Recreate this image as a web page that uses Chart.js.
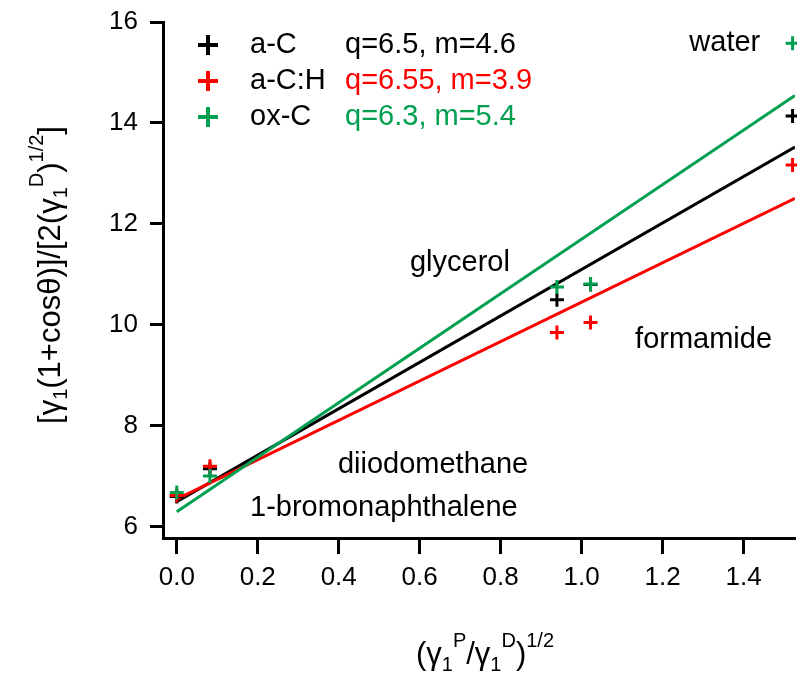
<!DOCTYPE html>
<html>
<head>
<meta charset="utf-8">
<script src="https://cdn.jsdelivr.net/npm/chart.js@4.4.0/dist/chart.umd.min.js"></script>
<style>
  html, body { margin: 0; padding: 0; background: #fff; }
  #wrap { width: 797px; height: 675px; position: relative; }
</style>
</head>
<body>
<div id="wrap"><canvas id="chart" width="797" height="675"></canvas></div>
<script>
// probe liquids, x = (γ1P/γ1D)^1/2
const liquids = ['1-bromonaphthalene', 'diiodomethane', 'glycerol', 'formamide', 'water'];
const xValues = [0.0, 0.082, 0.939, 1.022, 1.521];

// y = [γ1(1+cosθ)]/[2(γ1D)^1/2] per sample
const seriesNames = ['a-C', 'a-C:H', 'ox-C'];
const aC  = [6.60, 7.15, 10.50, 10.80, 14.14];
const aCH = [6.62, 7.20, 9.85, 10.05, 13.17];
const oxC = [6.68, 7.01, 10.75, 10.81, 15.58];

// linear fits y = q + m x
const fitQ = [6.5, 6.55, 6.3];
const fitM = [4.6, 3.9, 5.4];
const fitRange = [0, 1.527];

const xTicks = [0.0, 0.2, 0.4, 0.6, 0.8, 1.0, 1.2, 1.4];
const yTicks = [6, 8, 10, 12, 14, 16];

const FONT = "'Liberation Sans', Arial, sans-serif";
const COLORS = ['#000000', '#ff0000', '#00a050'];

// where the liquid names sit (data coords, left aligned)
const LABEL_POS = [
    { x: 0.181, y: 6.38 },
    { x: 0.398, y: 7.23 },
    { x: 0.576, y: 11.23 },
    { x: 1.132, y: 9.70 },
    { x: 1.266, y: 15.58 }
];

const toPoints = ys => xValues.map((x, i) => ({ x, y: ys[i] }));
const fitPoints = i => fitRange.map(x => ({ x, y: fitQ[i] + fitM[i] * x }));

const allSeries = [aC, aCH, oxC];

const lineSets = allSeries.map((_, i) => ({
    label: seriesNames[i] + ' fit',
    data: fitPoints(i),
    order: 10 - i,
    showLine: true,
    borderColor: COLORS[i],
    borderWidth: 3,
    pointRadius: 0,
    fill: false
}));

// lower order is drawn on top: ox-C last
const pointSets = allSeries.map((ys, i) => ({
    label: seriesNames[i],
    data: toPoints(ys),
    order: 3 - i,
    showLine: false,
    pointStyle: 'cross',
    pointRadius: 7,
    pointBorderWidth: 3,
    borderColor: COLORS[i],
    backgroundColor: COLORS[i],
    clip: false
}));

function drawRich(ctx, parts, cx, baseY, size) {
    const small = Math.round(size * 0.66);
    let total = 0;
    const widths = parts.map(([txt, kind]) => {
        ctx.font = `${kind === 'n' ? size : small}px ${FONT}`;
        const w = ctx.measureText(txt).width;
        total += w;
        return w;
    });
    let x = cx - total / 2;
    parts.forEach(([txt, kind], i) => {
        ctx.font = `${kind === 'n' ? size : small}px ${FONT}`;
        let dy = 0;
        if (kind === 'sub') dy = size * 0.22;
        if (kind === 'sup') dy = -size * 0.55;
        ctx.fillText(txt, x, baseY + dy);
        x += widths[i];
    });
}

const overlay = {
    id: 'overlay',
    afterDraw(chart) {
        const ctx = chart.ctx;
        const sx = chart.scales.x, sy = chart.scales.y;
        ctx.save();
        ctx.textBaseline = 'middle';
        ctx.textAlign = 'left';

        // liquid names
        ctx.fillStyle = '#000';
        ctx.font = `29px ${FONT}`;
        liquids.forEach((name, i) => {
            ctx.fillText(name, sx.getPixelForValue(LABEL_POS[i].x), sy.getPixelForValue(LABEL_POS[i].y));
        });

        // legend block
        seriesNames.forEach((name, i) => {
            const y = 45 + i * 36;
            ctx.strokeStyle = COLORS[i];
            ctx.lineWidth = 4;
            ctx.beginPath();
            ctx.moveTo(198, y); ctx.lineTo(218, y);
            ctx.moveTo(208, y - 10); ctx.lineTo(208, y + 10);
            ctx.stroke();
            ctx.fillStyle = '#000';
            ctx.font = `29px ${FONT}`;
            ctx.fillText(name, 250, y);
            ctx.fillStyle = COLORS[i];
            ctx.fillText(`q=${fitQ[i]}, m=${fitM[i]}`, 345, y);
        });

        // axis titles
        ctx.fillStyle = '#000';
        ctx.textBaseline = 'alphabetic';
        drawRich(ctx, [['(γ', 'n'], ['1', 'sub'], ['P', 'sup'], ['/γ', 'n'], ['1', 'sub'], ['D', 'sup'], [')', 'n'], ['1/2', 'sup']], 485, 664, 31);

        ctx.translate(60, 275);
        ctx.rotate(-Math.PI / 2);
        drawRich(ctx, [['[γ', 'n'], ['1', 'sub'], ['(1+cosθ)]/[2(γ', 'n'], ['1', 'sub'], ['D', 'sup'], [')', 'n'], ['1/2', 'sup'], [']', 'n']], 0, 0, 31);
        ctx.restore();
    }
};

new Chart(document.getElementById('chart'), {
    type: 'scatter',
    data: { datasets: [...lineSets, ...pointSets] },
    options: {
        responsive: false,
        animation: false,
        layout: { autoPadding: false, padding: { top: 22, right: 2, left: 0, bottom: 0 } },
        plugins: {
            legend: { display: false },
            tooltip: { enabled: false }
        },
        scales: {
            x: {
                type: 'linear',
                min: -0.034,
                max: 1.527,
                afterBuildTicks: s => { s.ticks = xTicks.map(v => ({ value: v })); },
                afterFit: s => { s.height = 137; s.paddingLeft = 0; s.paddingRight = 0; },
                ticks: {
                    color: '#000',
                    font: { family: FONT, size: 26 },
                    padding: 8,
                    maxRotation: 0,
                    autoSkip: false,
                    callback: v => Number(v).toFixed(1)
                },
                grid: { drawOnChartArea: false, tickLength: 16, tickWidth: 3, tickColor: '#000' },
                border: { color: '#000', width: 3 }
            },
            y: {
                type: 'linear',
                min: 5.78,
                max: 16,
                afterBuildTicks: s => { s.ticks = yTicks.map(v => ({ value: v })); },
                afterFit: s => { s.width = 163; s.paddingTop = 0; s.paddingBottom = 0; },
                ticks: {
                    color: '#000',
                    font: { family: FONT, size: 26 },
                    padding: 12,
                    autoSkip: false,
                    callback: v => String(v)
                },
                grid: { drawOnChartArea: false, tickLength: 13, tickWidth: 3, tickColor: '#000' },
                border: { color: '#000', width: 3 }
            }
        }
    },
    plugins: [overlay]
});
</script>
</body>
</html>
